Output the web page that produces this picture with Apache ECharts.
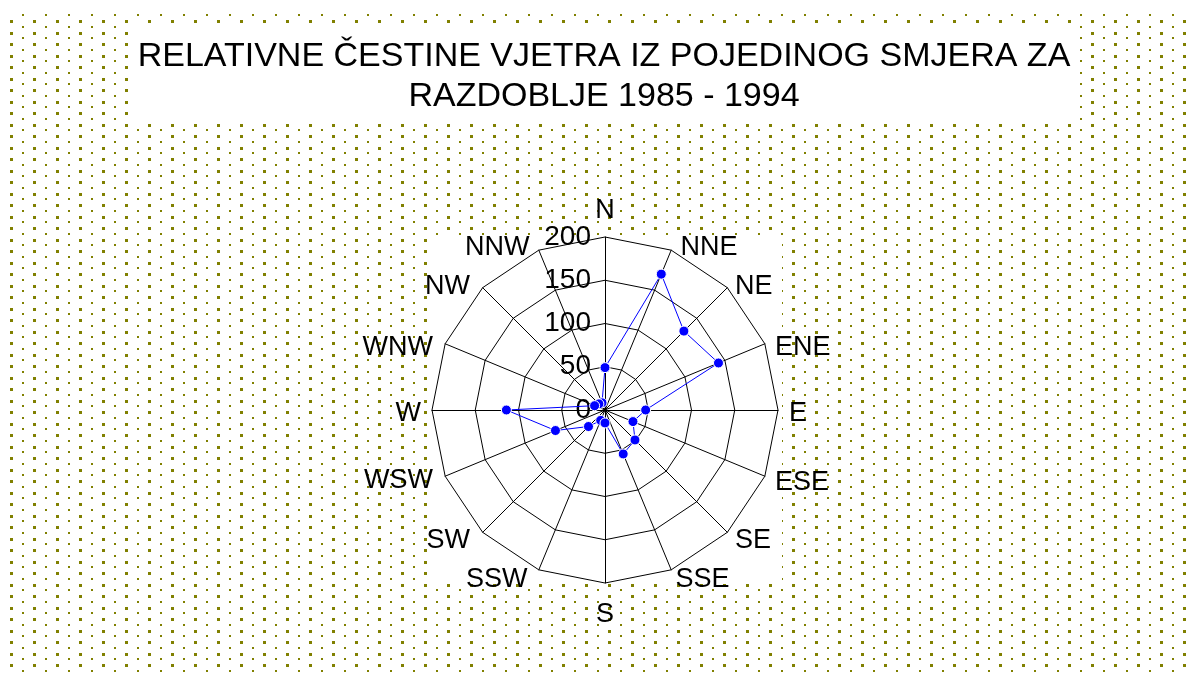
<!DOCTYPE html>
<html>
<head>
<meta charset="utf-8">
<script src="https://cdn.jsdelivr.net/npm/echarts@6/dist/echarts.min.js"></script>
<style>
  html, body { margin: 0; padding: 0; background: #fff; }
  #wrap { position: relative; width: 1187px; height: 675px; overflow: hidden; }
  #bg { position: absolute; left: 10px; top: 12px; width: 1177px; height: 660px; }
  #chart { position: absolute; left: 0; top: 0; width: 1187px; height: 675px; }
</style>
</head>
<body>
<div id="wrap">
  <div id="bg"></div>
  <div id="chart"></div>
</div>
<script>
// ---- data ----
const titleLines = ['RELATIVNE ČESTINE VJETRA IZ POJEDINOG SMJERA ZA', 'RAZDOBLJE 1985 - 1994'];
const directions = ['N', 'NNE', 'NE', 'ENE', 'E', 'ESE', 'SE', 'SSE', 'S', 'SSW', 'SW', 'WSW', 'W', 'WNW', 'NW', 'NNW'];
const frequencies = [49, 170, 129, 142, 47, 35, 49, 55, 15, 13, 27, 62, 114, 13, 10, 9];
const axisMin = 0;
const axisMax = 200;
const tickLabels = ['0', '50', '100', '150', '200'];

// ---- label nudges: horizontal padding [top, right, bottom, left] and downward shift ----
const namePadding = {
  N: [0, 0, 0, 0], NNE: [0, 0, 0, 5], NE: [0, 0, 0, 0], ENE: [0, 0, 0, 0],
  E: [0, 0, 0, 0], ESE: [0, 0, 0, 0], SE: [0, 0, 0, 0], SSE: [0, 0, 0, 0],
  S: [6, 0, 0, 0], SSW: [0, 7, 0, 0], SW: [0, 5, 0, 0], WSW: [0, 2, 0, 0],
  W: [0, 0, 0, 0], WNW: [0, 2, 0, 0], NW: [0, 5, 0, 0], NNW: [0, 5, 0, 0]
};
const nameShift = { NNE: 8, NE: 7, ENE: 8, E: 4, ESE: 2, W: 4, WNW: 8, NW: 7, NNW: 8 };

// ---- dotted background tile ----
(function () {
  const c = document.createElement('canvas');
  c.width = 23; c.height = 23;
  const g = c.getContext('2d');
  g.fillStyle = '#808000';
  g.fillRect(0, 0, 3, 3);
  g.fillRect(0, 12, 3, 3);
  g.fillRect(12, 6, 2, 2);
  g.fillRect(12, 17, 2, 2);
  const bg = document.getElementById('bg');
  bg.style.backgroundImage = 'url(' + c.toDataURL() + ')';
  bg.style.backgroundPosition = '0px 8px';
  bg.style.backgroundRepeat = 'repeat';
})();

// ECharts radar runs counter-clockwise: list N first, then the rest reversed
const order = [0].concat(directions.slice(1).map((d, i) => i + 1).reverse());
const font = '"Liberation Sans", Arial, sans-serif';

const richStyles = {};
Object.keys(nameShift).forEach(k => {
  const s = nameShift[k];
  richStyles['g' + s] = { fontSize: 1, lineHeight: 2 * s };
});

const indicator = order.map((idx, k) => {
  const name = directions[idx];
  const o = {
    name: name, min: axisMin, max: axisMax,
    nameTextStyle: { padding: namePadding[name] }
  };
  if (k === 0) {
    o.axisLabel = {
      show: true, color: '#000', fontSize: 28, fontFamily: font, margin: 14,
      formatter: v => tickLabels[Math.round((v - axisMin) / 50)]
    };
  }
  return o;
});
const values = order.map(idx => frequencies[idx]);

const chart = echarts.init(document.getElementById('chart'), null, { renderer: 'canvas' });
chart.setOption({
  backgroundColor: 'transparent',
  animation: false,
  graphic: [
    { type: 'rect', z: -10, shape: { x: 130, y: 25, width: 947, height: 96 }, style: { fill: '#fff' } },
    { type: 'rect', z: -10, shape: { x: 427, y: 236, width: 355, height: 345 }, style: { fill: '#fff' } },
    { type: 'text', z: 10, x: 604, y: 57, style: { text: titleLines[0], font: '34px ' + font, fill: '#000', textAlign: 'center', textVerticalAlign: 'middle' } },
    { type: 'text', z: 10, x: 604, y: 97, style: { text: titleLines[1], font: '34px ' + font, fill: '#000', textAlign: 'center', textVerticalAlign: 'middle' } }
  ],
  radar: {
    center: [605, 410],
    radius: 173,
    startAngle: 90,
    shape: 'polygon',
    splitNumber: 4,
    indicator: indicator,
    nameGap: 11,
    axisName: {
      color: '#000', fontSize: 27, fontFamily: font, lineHeight: 30,
      formatter: function (name) {
        const s = nameShift[name];
        return s ? '{g' + s + '| }\n' + name : name;
      },
      rich: richStyles
    },
    axisLine: { lineStyle: { color: '#000', width: 1 } },
    splitLine: { lineStyle: { color: '#000', width: 1 } },
    splitArea: { show: false },
    axisTick: { show: false },
    axisLabel: { show: false }
  },
  series: [{
    type: 'radar',
    symbol: 'circle',
    symbolSize: 10,
    lineStyle: { color: '#0000ff', width: 1 },
    itemStyle: { color: '#0000ff', borderColor: '#fff', borderWidth: 1 },
    data: [{ value: values, name: 'Frekvencija' }]
  }]
});
</script>
</body>
</html>
